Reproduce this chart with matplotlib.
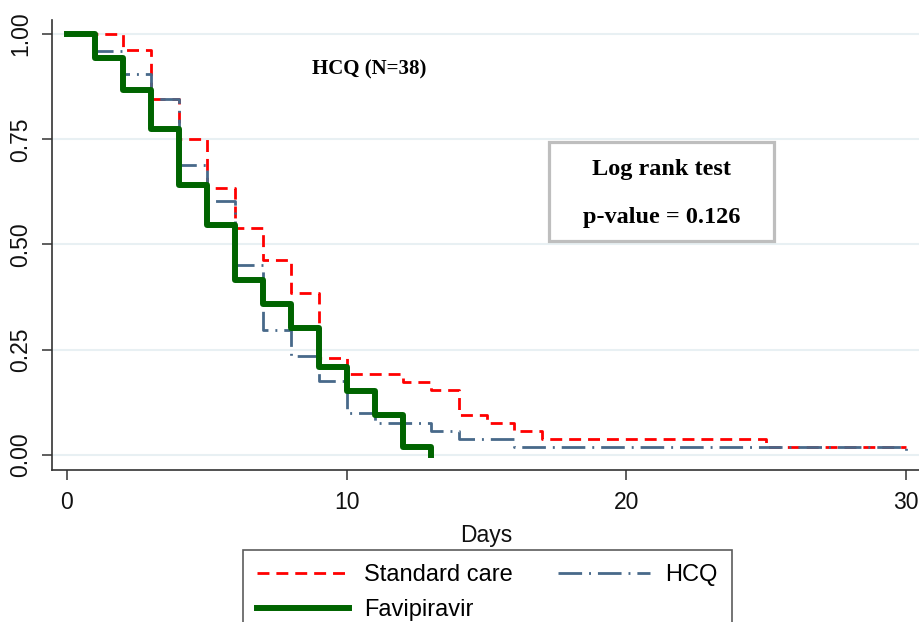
import matplotlib
matplotlib.use("Agg")
import matplotlib.pyplot as plt
from matplotlib.patches import Rectangle

plt.rcParams['font.family'] = ['Liberation Sans', 'DejaVu Sans']
plt.rcParams['lines.scale_dashes'] = False

# Kaplan-Meier step data
sc_days = [0, 2, 3, 4, 5, 6, 7, 8, 9, 10, 12, 13, 14, 15, 16, 17, 25, 30]
sc_surv = [1.0, 0.962, 0.846, 0.750, 0.635, 0.538, 0.462, 0.385, 0.231, 0.192,
           0.173, 0.154, 0.096, 0.077, 0.058, 0.038, 0.019, 0.019]

hcq_days = [0, 1, 2, 3, 4, 5, 6, 7, 8, 9, 10, 11, 13, 14, 16, 30]
hcq_surv = [1.0, 0.960, 0.904, 0.846, 0.690, 0.604, 0.452, 0.298, 0.236, 0.176,
            0.100, 0.077, 0.058, 0.038, 0.019, 0.0]

fav_days = [0, 1, 2, 3, 4, 5, 6, 7, 8, 9, 10, 11, 12, 13]
fav_surv = [1.0, 0.943, 0.868, 0.774, 0.642, 0.547, 0.415, 0.358, 0.302, 0.208,
            0.151, 0.096, 0.019, 0.0]

xticks = [0, 10, 20, 30]
yticks = [0.0, 0.25, 0.5, 0.75, 1.0]
ytick_labels = ["0.00", "0.25", "0.50", "0.75", "1.00"]
series_labels = ["Standard care", "HCQ", "Favipiravir"]
annot_title = "HCQ (N=38)"
test_lines = ["Log rank test", "p-value = 0.126"]

W, H = 920, 622
fig = plt.figure(figsize=(W / 100, H / 100), dpi=100)
ax = fig.add_axes([52 / W, 1 - 470 / H, (W - 52) / W, (470 - 20) / H])

ax.set_xlim(-0.536, 30.5)
ax.set_ylim(-0.0357, 1.0333)

for y in yticks:
    ax.axhline(y, color='#E8F0F3', lw=1.5, zorder=0)

l_sc, = ax.step(sc_days, sc_surv, where='post', color='#FF0000', lw=2.0,
                dashes=(8.6, 5.0), zorder=2)
l_hcq, = ax.step(hcq_days, hcq_surv, where='post', color='#48698A', lw=2.0,
                 dashes=(17, 5, 1.4, 5), zorder=3)
l_fav, = ax.step(fav_days, fav_surv, where='post', color='#006400', lw=4.3,
                 zorder=4)

for s in ['top', 'right']:
    ax.spines[s].set_visible(False)
for s in ['left', 'bottom']:
    ax.spines[s].set_color('#333333')
    ax.spines[s].set_linewidth(1.2)

ax.set_xticks(xticks)
ax.set_yticks(yticks)
ax.set_yticklabels(ytick_labels, rotation=90, va='center')
ax.tick_params(axis='both', length=7.2, width=1.1, color='#333333',
               labelsize=16.5, labelcolor='#111111')
ax.tick_params(axis='x', pad=8)
ax.tick_params(axis='y', pad=7)
ax.set_xlabel("Days", fontsize=16.5, labelpad=7, color='#111111')

# annotations
ax.text((369 - 67) / 27.97, (455 - 70) / 420, annot_title,
        family='Liberation Serif', fontweight='bold', fontsize=15,
        ha='center', va='center')
ax.add_patch(Rectangle(((549 - 67) / 27.97, (455 - 242) / 420),
                       (774 - 549) / 27.97, (242 - 143) / 420,
                       facecolor='white', edgecolor='#BEBEBE', lw=2.3, zorder=5))
ax.text((662 - 67) / 27.97, (455 - 170) / 420, test_lines[0],
        family='Liberation Serif', fontweight='bold', fontsize=17.5,
        ha='center', va='center', zorder=6)
ax.text((662 - 67) / 27.97, (455 - 218) / 420, test_lines[1],
        family='Liberation Serif', fontweight='bold', fontsize=17.5,
        ha='center', va='center', zorder=6)

leg = fig.legend([l_sc, l_fav, l_hcq],
                 [series_labels[0], series_labels[2], series_labels[1]],
                 ncol=2, loc='upper left',
                 bbox_to_anchor=(243 / W, 1 - 550 / H),
                 fontsize=17, frameon=True, fancybox=False,
                 borderpad=0.6, labelspacing=0.55, handlelength=3.9,
                 handletextpad=0.64, columnspacing=1.9, borderaxespad=0)
leg.get_frame().set_edgecolor('#333333')
leg.get_frame().set_linewidth(1.2)

fig.savefig("out.png", dpi=100)
